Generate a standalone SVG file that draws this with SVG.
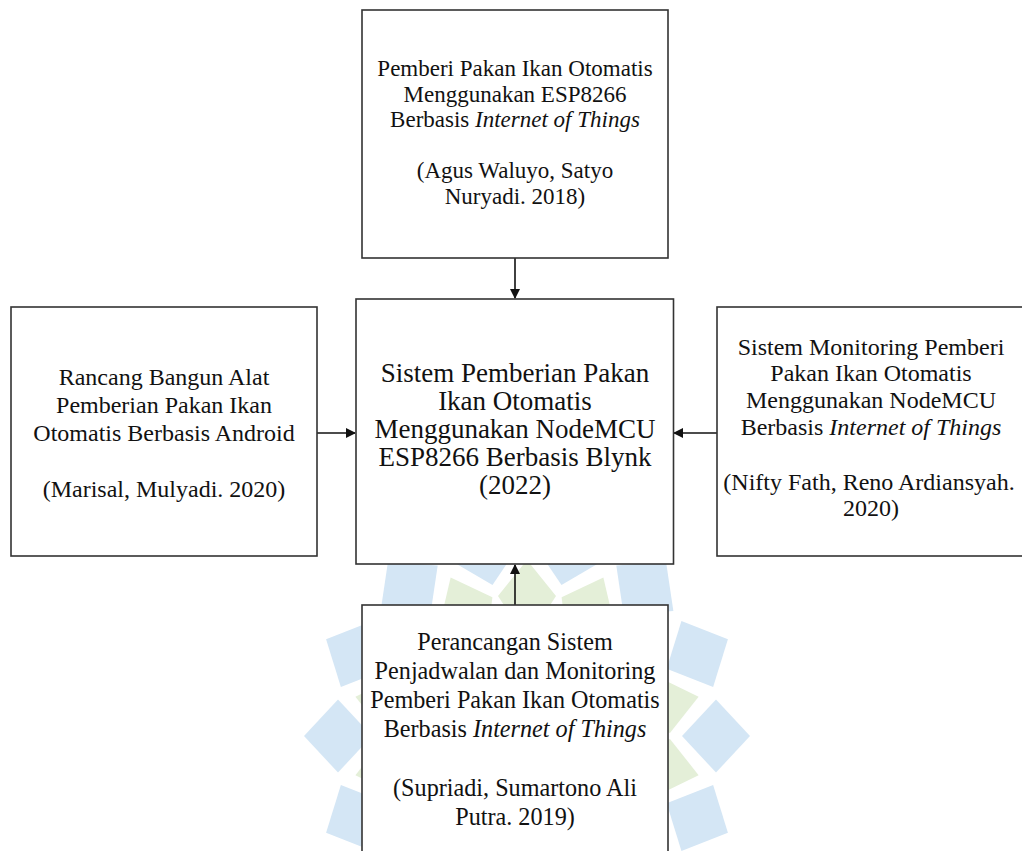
<svg xmlns="http://www.w3.org/2000/svg" width="1022" height="851" viewBox="0 0 1022 851">
<style>
.box{fill:#fff;stroke:#333;stroke-width:1.6}
.t{font-family:"Liberation Serif","Times New Roman",serif;fill:#111;text-anchor:middle}
.s{font-size:23px}
.m{font-size:24px}
.b{font-size:24.2px}
.c{font-size:27px}
.i{font-style:italic}
.wb{fill:#d4e6f5}
.wg{fill:#e4efd8}
.ln{stroke:#111;stroke-width:1.6;fill:none}
</style>
<defs>
<marker id="ah" markerWidth="10" markerHeight="10" refX="9" refY="5" orient="auto" markerUnits="userSpaceOnUse">
<path d="M0,0 L10,5 L0,10 Z" fill="#111"/>
</marker>
<polygon id="bp" class="wb" points="750,736 716,699.5 682,736 716,772.5"/>
<polygon id="gp" class="wg" points="703,736 667,707 622,736 667,765"/>
</defs>
<rect width="1022" height="851" fill="#fff"/>
<g id="watermark">
<use href="#gp" transform="rotate(12.857 527 736)"/>
<use href="#gp" transform="rotate(38.571 527 736)"/>
<use href="#gp" transform="rotate(64.286 527 736)"/>
<use href="#gp" transform="rotate(90 527 736)"/>
<use href="#gp" transform="rotate(115.714 527 736)"/>
<use href="#gp" transform="rotate(141.429 527 736)"/>
<use href="#gp" transform="rotate(167.143 527 736)"/>
<use href="#gp" transform="rotate(192.857 527 736)"/>
<use href="#gp" transform="rotate(218.571 527 736)"/>
<use href="#gp" transform="rotate(244.286 527 736)"/>
<use href="#gp" transform="rotate(270 527 736)"/>
<use href="#gp" transform="rotate(295.714 527 736)"/>
<use href="#gp" transform="rotate(321.429 527 736)"/>
<use href="#gp" transform="rotate(347.143 527 736)"/>
<use href="#bp"/>
<use href="#bp" transform="rotate(25.714 527 736)"/>
<use href="#bp" transform="rotate(51.429 527 736)"/>
<use href="#bp" transform="rotate(77.143 527 736)"/>
<use href="#bp" transform="rotate(102.857 527 736)"/>
<use href="#bp" transform="rotate(128.571 527 736)"/>
<use href="#bp" transform="rotate(154.286 527 736)"/>
<use href="#bp" transform="rotate(180 527 736)"/>
<use href="#bp" transform="rotate(205.714 527 736)"/>
<use href="#bp" transform="rotate(231.429 527 736)"/>
<use href="#bp" transform="rotate(257.143 527 736)"/>
<use href="#bp" transform="rotate(282.857 527 736)"/>
<use href="#bp" transform="rotate(308.571 527 736)"/>
<use href="#bp" transform="rotate(334.286 527 736)"/>
</g>
<g id="connectors">
<line class="ln" x1="515" y1="258" x2="515" y2="298" marker-end="url(#ah)"/>
<line class="ln" x1="317" y1="433" x2="355" y2="433" marker-end="url(#ah)"/>
<line class="ln" x1="717" y1="433" x2="674" y2="433" marker-end="url(#ah)"/>
<line class="ln" x1="515" y1="605" x2="515" y2="565" marker-end="url(#ah)"/>
</g>
<g id="node-top">
<rect class="box" x="362" y="10" width="306" height="248"/>
<text class="t s" x="515" y="76">Pemberi Pakan Ikan Otomatis</text>
<text class="t s" x="515" y="101.5">Menggunakan ESP8266</text>
<text class="t s" x="515" y="127">Berbasis <tspan class="i">Internet of Things</tspan></text>
<text class="t s" x="515" y="178">(Agus Waluyo, Satyo</text>
<text class="t s" x="515" y="203.5">Nuryadi. 2018)</text>
</g>
<g id="node-center">
<rect class="box" x="356" y="299" width="317.5" height="265"/>
<text class="t c" x="515" y="382">Sistem Pemberian Pakan</text>
<text class="t c" x="515" y="410">Ikan Otomatis</text>
<text class="t c" x="515" y="438">Menggunakan NodeMCU</text>
<text class="t c" x="515" y="466">ESP8266 Berbasis Blynk</text>
<text class="t c" x="515" y="494">(2022)</text>
</g>
<g id="node-left">
<rect class="box" x="11" y="307" width="306" height="249"/>
<text class="t m" x="164" y="385">Rancang Bangun Alat</text>
<text class="t m" x="164" y="413">Pemberian Pakan Ikan</text>
<text class="t m" x="164" y="441">Otomatis Berbasis Android</text>
<text class="t m" x="164" y="497">(Marisal, Mulyadi. 2020)</text>
</g>
<g id="node-right">
<rect class="box" x="717" y="307" width="330" height="249"/>
<text class="t m" x="871" y="355">Sistem Monitoring Pemberi</text>
<text class="t m" x="871" y="381">Pakan Ikan Otomatis</text>
<text class="t m" x="871" y="408">Menggunakan NodeMCU</text>
<text class="t m" x="871" y="435">Berbasis <tspan class="i">Internet of Things</tspan></text>
<text class="t m" x="869" y="490">(Nifty Fath, Reno Ardiansyah.</text>
<text class="t m" x="871" y="516">2020)</text>
</g>
<g id="node-bottom">
<rect class="box" x="362" y="605" width="306" height="270"/>
<text class="t b" x="515" y="650">Perancangan Sistem</text>
<text class="t b" x="515" y="679">Penjadwalan dan Monitoring</text>
<text class="t b" x="515" y="708">Pemberi Pakan Ikan Otomatis</text>
<text class="t b" x="515" y="737">Berbasis <tspan class="i">Internet of Things</tspan></text>
<text class="t b" x="515" y="796">(Supriadi, Sumartono Ali</text>
<text class="t b" x="515" y="825">Putra. 2019)</text>
</g>
</svg>
